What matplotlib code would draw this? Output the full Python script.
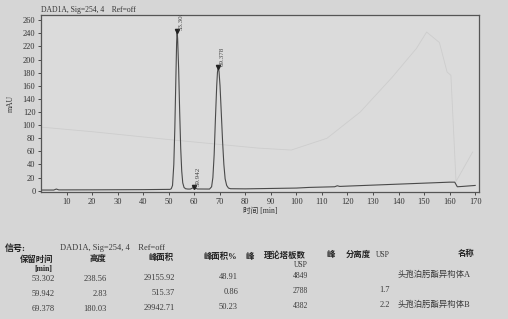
import numpy as np
import matplotlib
matplotlib.use('Agg')
import matplotlib.pyplot as plt

plt.rcParams['font.family'] = ['Liberation Serif', 'Noto Sans CJK SC']

# main trace (time in min, signal in mAU)
trace_t = [0, 5, 6, 7, 20, 40, 50, 50.5, 51.0, 51.5, 52.0, 52.4, 52.8, 53.1, 53.3, 53.5,
           53.9, 54.3, 54.7, 55.1, 55.5, 56.0, 56.6, 57.5, 58.5, 59.3, 59.9, 60.5, 61.2,
           66.0, 66.8, 67.3, 67.8, 68.3, 68.8, 69.1, 69.4, 69.7, 70.1, 70.6, 71.1, 71.6,
           72.1, 72.7, 73.4, 74.2, 80, 100, 105, 115, 116, 117, 120, 130, 140, 150, 160,
           162, 163, 165, 170]
trace_v = [1, 1, 2.5, 1.2, 1.3, 1.6, 2, 2, 3, 8, 40, 95, 170, 225, 243, 232,
           185, 120, 65, 30, 12, 5, 3, 2.5, 2.5, 4, 5.5, 4, 2.6,
           2.5, 6, 20, 55, 110, 160, 181, 188, 182, 160, 118, 75, 40,
           18, 8, 4, 3, 2.8, 4, 5, 6, 7.5, 6.5, 7, 8.5, 10, 11.5, 13,
           13, 6, 6.5, 8]

# faint gradient trace showing through the paper
ghost_t = [0, 20, 50, 85, 98, 112, 125, 137.5, 147, 151, 156, 159, 160.5, 162.5, 169]
ghost_v = [97, 90, 78, 65, 62, 80, 120, 173, 217, 242, 226, 181, 176, 14, 59]

peak_rt = [53.302, 59.942, 69.378]
peak_apex = [243, 5.5, 188]
peak_height = [238.56, 2.83, 180.03]
peak_area = [29155.92, 515.37, 29942.71]
peak_area_pct = [48.91, 0.86, 50.23]
plates_usp = [4849, 2788, 4382]
resolution_usp = ['', '1.7', '2.2']
peak_names = ['头孢泊肟酯异构体A', '', '头孢泊肟酯异构体B']

W, H = 508, 319
fig = plt.figure(figsize=(W / 100, H / 100), dpi=100, facecolor='#d6d6d6')
ax = fig.add_axes([41 / W, 1 - 192 / H, (479 - 41) / W, (192 - 15) / H])
ax.set_facecolor('#dbdbdb')

ax.plot(ghost_t, ghost_v, color='#cdcdcd', lw=0.6)
ax.plot(trace_t, trace_v, color='#4a4a4a', lw=0.8)
ax.plot(peak_rt, peak_apex, 'v', color='#222222', ms=3)
for rt, ap in zip(peak_rt, peak_apex):
    ax.text(rt + 0.6, ap + 2, '%.3f' % rt, rotation=90, fontsize=5,
            ha='left', va='bottom', color='#444444', clip_on=True)

ax.set_xlim(0, 171.5)
ax.set_ylim(-2, 268)
ax.set_xticks(np.arange(10, 171, 10))
ax.set_yticks(np.arange(0, 261, 20))
ax.tick_params(labelsize=6, length=2.5, width=0.6, pad=1.5, colors='#333333')
for s in ax.spines.values():
    s.set_color('#555555')
    s.set_linewidth(0.9)
ax.set_ylabel('mAU', fontsize=5.5, labelpad=6, color='#333333')
ax.set_xlabel('时间 [min]', fontsize=5.5, labelpad=1, color='#333333')
ax.set_title('DAD1A, Sig=254, 4    Ref=off', fontsize=5.5, loc='left', pad=2, color='#333333')

# results table below the chart
def tx(x, y, s, **kw):
    y = y - 0.014 * x  # the photo is slightly tilted
    kw.setdefault('fontsize', 6)
    kw.setdefault('color', '#3a3a3a')
    fig.text(x / W, 1 - y / H, s, va='center', **kw)

tx(5, 249, '信号:', fontweight='bold', fontsize=6.5, color='#222222')
tx(60, 249, 'DAD1A, Sig=254, 4    Ref=off')

hdr = dict(fontweight='bold', fontsize=6, color='#222222', ha='center')
tx(37, 260, '保留时间', **hdr)
tx(43, 269.5, '[min]', fontweight='bold', fontsize=5.5, color='#222222', ha='center')
tx(98, 260, '高度', **hdr)
tx(161, 260, '峰面积', **hdr)
tx(220, 260, '峰面积%', **hdr)
tx(250, 260, '峰', **hdr)
tx(285, 260, '理论塔板数', **hdr)
tx(301, 269, 'USP', fontsize=5.5, color='#333333', ha='center')
tx(331, 260, '峰', **hdr)
tx(358, 260, '分离度', **hdr)
tx(383, 260, 'USP', fontsize=5.5, color='#333333', ha='center')
tx(466, 260, '名称', **hdr)

row_y = [280, 295, 310]
for i in range(3):
    y = row_y[i]
    tx(55, y, '%.3f' % peak_rt[i], ha='right')
    tx(107, y, '%.2f' % peak_height[i], ha='right')
    tx(175, y, '%.2f' % peak_area[i], ha='right')
    tx(238, y, '%.2f' % peak_area_pct[i], ha='right')
    tx(308, y, str(plates_usp[i]), ha='right', fontsize=5.5)
    tx(390, y, resolution_usp[i], ha='right')
    tx(398, y, peak_names[i], fontsize=6)

fig.savefig('out.png', dpi=100, facecolor=fig.get_facecolor())
